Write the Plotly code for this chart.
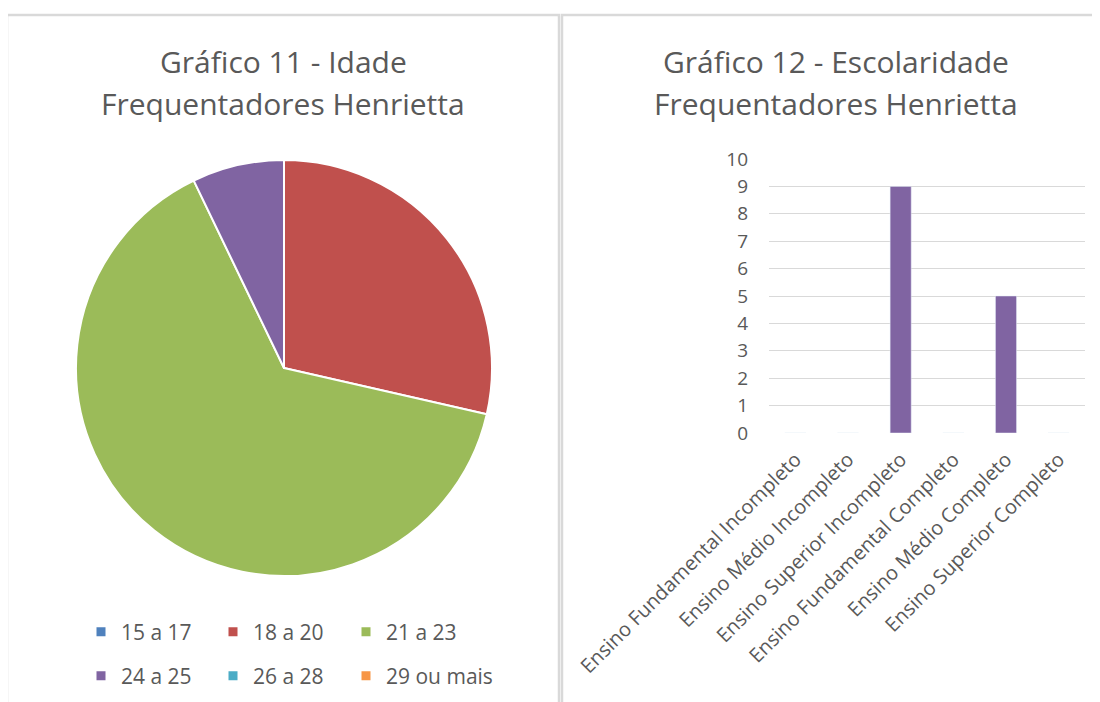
import plotly.graph_objects as go

W, H = 1100, 702

# ---- data ----
age_labels = ["15 a 17", "18 a 20", "21 a 23", "24 a 25", "26 a 28", "29 ou mais"]
age_values = [0, 4, 9, 1, 0, 0]
age_colors = ["#4F81BD", "#C0504D", "#9BBB59", "#8064A2", "#4BACC6", "#F79646"]

edu_labels = ["Ensino Fundamental Incompleto", "Ensino Médio Incompleto",
              "Ensino Superior Incompleto", "Ensino Fundamental Completo",
              "Ensino Médio Completo", "Ensino Superior Completo"]
edu_values = [0, 0, 9, 0, 5, 0]
y_ticks = list(range(0, 11))

title_left = ["Gráfico 11 - Idade", "Frequentadores Henrietta"]
title_right = ["Gráfico 12 - Escolaridade", "Frequentadores Henrietta"]

FONT = "Open Sans"
GREY = "#595959"
LINE = "#d9d9d9"
OFF = 8  # page body margin


def px(x):
    return (x - OFF) / W


def py(y):
    return 1 - (y - OFF) / H


fig = go.Figure()

fig.add_trace(go.Pie(
    labels=age_labels, values=age_values, sort=False, direction="clockwise",
    rotation=0, marker=dict(colors=age_colors, line=dict(color="white", width=2)),
    textinfo="none", showlegend=False,
    domain=dict(x=[px(76), px(492)], y=[py(576), py(160)]),
))

fig.add_trace(go.Bar(
    x=edu_labels, y=edu_values, marker_color="#8064A2", showlegend=False,
    xaxis="x", yaxis="y",
))

# legend entries: 2 rows x 3 columns, one legend box per entry
legend_cols = [81, 213, 346]
legend_rows = [632, 676]
legend_layouts = {}
for i, (lab, col) in enumerate(zip(age_labels, age_colors)):
    key = "legend" if i == 0 else f"legend{i + 1}"
    fig.add_trace(go.Scatter(
        x=[None], y=[None], mode="markers", name=lab,
        marker=dict(symbol="square", size=9, color=col),
        legend=key, showlegend=True,
    ))
    legend_layouts[key] = dict(
        x=px(legend_cols[i % 3]), y=py(legend_rows[i // 3]),
        orientation="h", xanchor="left", yanchor="middle",
        font=dict(family=FONT, size=21, color=GREY),
        bgcolor="rgba(0,0,0,0)", borderwidth=0,
        itemclick=False, itemdoubleclick=False,
    )

shapes = [
    dict(type="rect", xref="paper", yref="paper", x0=px(7), x1=px(559), y0=py(730), y1=py(15),
         line=dict(color=LINE, width=2.5), layer="below"),
    dict(type="rect", xref="paper", yref="paper", x0=px(562), x1=px(1130), y0=py(730), y1=py(15),
         line=dict(color=LINE, width=2.5), layer="below"),
]

annotations = []
for cx, lines in ((283, title_left), (836, title_right)):
    for yy, t in zip((62, 104), lines):
        annotations.append(dict(
            text=t, x=px(cx), y=py(yy), xref="paper", yref="paper",
            xanchor="center", yanchor="middle", showarrow=False,
            font=dict(family=FONT, size=30, color=GREY),
        ))

fig.update_layout(
    width=W, height=H, margin=dict(l=0, r=0, t=0, b=0, autoexpand=False),
    paper_bgcolor="white", plot_bgcolor="white",
    font=dict(family=FONT, color=GREY),
    showlegend=True,
    bargap=0.6,
    xaxis=dict(domain=[px(769), px(1085)], showgrid=False, showline=False, zeroline=False,
               tickangle=-45, tickfont=dict(family=FONT, size=20, color=GREY),
               ticks="", ticklabelstandoff=10, fixedrange=True, automargin=False),
    yaxis=dict(domain=[py(433), py(159)], range=[0, 10], tickvals=y_ticks,
               showgrid=True, gridcolor=LINE, gridwidth=1.2, zeroline=False, showline=False,
               tickfont=dict(family=FONT, size=19, color=GREY), ticks="",
               ticklabelstandoff=20, fixedrange=True, automargin=False),
    shapes=shapes, annotations=annotations,
    **legend_layouts,
)

fig.write_html("out.html")
